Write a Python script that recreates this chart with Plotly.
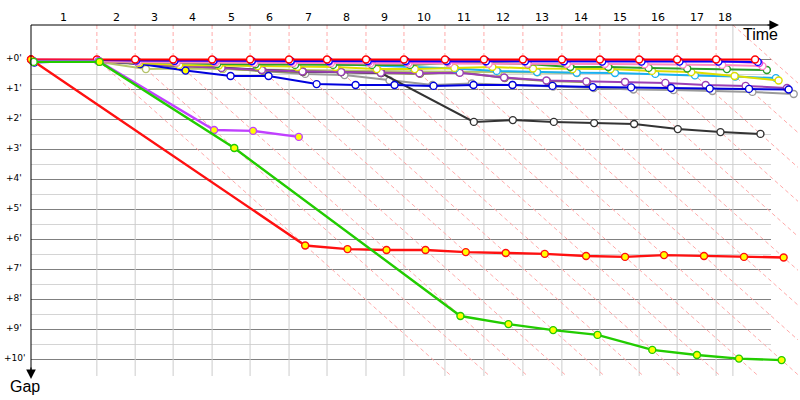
import plotly.graph_objects as go

# ---------------- data ----------------
# leader lap-line times (minutes); index 0 = start
LAP_T = [0, 1.96, 3.10, 4.23, 5.39, 6.52, 7.68, 8.81, 9.97, 11.10, 12.32,
         13.48, 14.64, 15.80, 16.93, 18.10, 19.23, 20.39, 21.55]
END_LINE = 20.89
LAP_LABELS = [str(i) for i in range(1, 19)]
GAP_TICKS = list(range(0, 11))
GAP_LABELS = ["+%d'" % v for v in GAP_TICKS]

# gaps (minutes) to the leader at each lap line, lap 0 = start
gap_gray = [0.06, 0.05, 0.10, 0.20, 0.30, 0.38, 0.48, 0.52, 0.70, 0.85, 0.80, 0.85, 0.90, 0.95, 1.00, 1.02, 1.05, 1.08, 1.15]
gap_olive = [0.08, 0.08, 0.15, 0.25, 0.30, 0.38, 0.42, 0.42, 0.45, 0.48, 0.42, 0.62, 0.72, 0.75]
gap_lolive = [0.08, 0.08, 0.32, 0.30, 0.32, 0.33, 0.35, 0.36, 0.38, 0.40, 0.40, 0.42, 0.43, 0.45]
gap_black = [0.06, 0.06, 0.12, 0.20, 0.28, 0.34, 0.40, 0.42, 0.45, 2.08, 2.02, 2.08, 2.12, 2.15, 2.32, 2.42, 2.48]
gap_purple = [0.06, 0.06, 0.14, 0.22, 0.28, 0.35, 0.40, 0.42, 0.44, 0.46, 0.44, 0.60, 0.70, 0.73, 0.75, 0.78, 0.85, 0.88, 0.95]
gap_navy = [0.10, 0.03, 0.15, 0.37, 0.55, 0.55, 0.82, 0.85, 0.85, 0.88, 0.85, 0.85, 0.88, 0.92, 0.93, 0.95, 0.97, 0.98, 1.00]
gap_cyan = [0.06, 0.03, 0.10, 0.14, 0.18, 0.20, 0.12, 0.15, 0.20, 0.25, 0.30, 0.38, 0.42, 0.44, 0.45, 0.48, 0.53, 0.57, 0.62]
gap_yellow = [0.08, 0.06, 0.12, 0.18, 0.20, 0.22, 0.25, 0.25, 0.32, 0.32, 0.28, 0.25, 0.30, 0.32, 0.32, 0.38, 0.42, 0.55, 0.70]
gap_green = [0.05, 0.05, 0.08, 0.10, 0.15, 0.16, 0.18, 0.18, 0.18, 0.18, 0.12, 0.12, 0.15, 0.25, 0.25, 0.28, 0.30, 0.32, 0.35]
gap_pink = [0.03, 0.05, 0.08, 0.10, 0.10, 0.12, 0.12, 0.12, 0.13, 0.13, 0.13, 0.14, 0.14, 0.15, 0.15, 0.16, 0.17, 0.18, 0.22]
gap_magenta = [0.00, 0.02, 0.04, 0.05, 0.06, 0.06, 0.07, 0.07, 0.08, 0.08, 0.08, 0.06, 0.06, 0.07, 0.06, 0.05, 0.05, 0.05, 0.12]
gap_blue = [0.05, 0.02, 0.03, 0.04, 0.04, 0.05, 0.05, 0.05, 0.05, 0.05, 0.05, 0.06, 0.06, 0.06, 0.07, 0.07, 0.07, 0.07, 0.08]
gap_leader = [0.0] * 19
gap_violet = [0.05, 0.05, 2.35, 2.38, 2.58]
gap_lime = [0.08, 0.08, 2.95, 8.55, 8.82, 9.02, 9.18, 9.68, 9.85, 9.97, 10.02]
gap_red2 = [0.0, 6.20, 6.32, 6.35, 6.35, 6.42, 6.45, 6.48, 6.55, 6.58, 6.52, 6.55, 6.58, 6.60]

# laps where the marker is filled (pit laps)
pit_navy = [2, 3]
pit_violet = [1, 2, 3, 4]
pit_lime = list(range(1, 11))
pit_red2 = list(range(0, 14))

SERIES = [
    ("gray", gap_gray, "#9a9a9a", []),
    ("olive", gap_olive, "#8a8a48", []),
    ("lightolive", gap_lolive, "#b5c46a", []),
    ("black", gap_black, "#333333", []),
    ("purple", gap_purple, "#9b3fb5", []),
    ("navy", gap_navy, "#0000dd", pit_navy),
    ("cyan", gap_cyan, "#1ab0f0", []),
    ("yellow", gap_yellow, "#dede00", []),
    ("green", gap_green, "#2a9e2a", []),
    ("pink", gap_pink, "#ff88c4", []),
    ("magenta", gap_magenta, "#e040e0", []),
    ("blue", gap_blue, "#0000ff", []),
    ("leader", gap_leader, "#ff0000", []),
    ("violet", gap_violet, "#c040ff", pit_violet),
    ("red2", gap_red2, "#ff1010", pit_red2),
    ("lime", gap_lime, "#22cc00", pit_lime),
]

# ---------------- geometry ----------------
W, H = 800, 400
X0_PX, XS = 31.0, 33.6      # px of time 0, px per minute
Y0_PX, YS = 59.5, 30.0      # px of gap 0, px per minute


def gx(px):
    return (px - X0_PX) / XS


def gy(py):
    return (py - Y0_PX) / YS


x_range = [gx(0), gx(W)]
y_range = [gy(H), gy(0)]

fig = go.Figure()

for name, gaps, col, pits in SERIES:
    xs = [LAP_T[i] + g for i, g in enumerate(gaps)]
    fills = ["#ffff00" if i in pits else "#ffffff" for i in range(len(gaps))]
    wide = name in ("lime", "red2", "violet")
    fig.add_trace(go.Scatter(
        x=xs, y=gaps, mode="lines+markers", name=name,
        line=dict(color=col, width=2.4 if wide else 2),
        marker=dict(symbol="circle", size=7, color=fills,
                    line=dict(color=col, width=1.4)),
        hoverinfo="skip", showlegend=False, cliponaxis=False))

shapes = []
x_grid_end = gx(771)
y_top = gy(25)
y_bot = gy(376)
# horizontal half-minute and minute lines
for k in range(1, 20, 2):
    shapes.append(dict(type="line", layer="below", x0=0, x1=x_grid_end, y0=k / 2, y1=k / 2,
                       line=dict(color="#d4d4d4", width=1)))
for v in GAP_TICKS:
    shapes.append(dict(type="line", layer="below", x0=0, x1=x_grid_end, y0=v, y1=v,
                       line=dict(color="#808080", width=1)))
# vertical lap lines
for t in LAP_T[1:18]:
    shapes.append(dict(type="line", layer="below", x0=t, x1=t, y0=0, y1=y_bot,
                       line=dict(color="#cccccc", width=1)))
    shapes.append(dict(type="line", layer="below", x0=t, x1=t, y0=y_top, y1=0,
                       line=dict(color="#ffaaaa", width=1, dash="4px,3px")))
shapes.append(dict(type="line", layer="below", x0=END_LINE, x1=END_LINE, y0=y_top, y1=y_bot,
                   line=dict(color="#cccccc", width=1)))
# diagonal lap lines (constant lap, slope 1 minute per minute)
x_max = gx(798)
for t in LAP_T[1:18]:
    d = min(gy(376), x_max - t)
    shapes.append(dict(type="line", layer="below", x0=t, y0=0, x1=t + d, y1=d,
                       line=dict(color="#ffaaaa", width=1, dash="4px,3px")))
d = min(gy(376) - y_top, x_max - END_LINE)
shapes.append(dict(type="line", layer="below", x0=END_LINE, y0=y_top, x1=END_LINE + d, y1=y_top + d,
                   line=dict(color="#ffaaaa", width=1, dash="4px,3px")))
# axis lines
shapes.append(dict(type="line", x0=0, x1=gx(770), y0=y_top, y1=y_top,
                   line=dict(color="#000000", width=1)))
shapes.append(dict(type="line", x0=0, x1=0, y0=y_top, y1=gy(370),
                   line=dict(color="#000000", width=1)))

annotations = []
# arrow heads
annotations.append(dict(x=gx(779), y=y_top, ax=gx(766), ay=y_top, xref="x", yref="y",
                        axref="x", ayref="y", text="", showarrow=True, arrowhead=2,
                        arrowsize=1.6, arrowwidth=1.2, arrowcolor="#000000"))
annotations.append(dict(x=0, y=gy(379), ax=0, ay=gy(366), xref="x", yref="y",
                        axref="x", ayref="y", text="", showarrow=True, arrowhead=2,
                        arrowsize=1.6, arrowwidth=1.2, arrowcolor="#000000"))
# lap labels centred in each lap column
bounds = [0] + LAP_T[1:18] + [END_LINE]
for i, lab in enumerate(LAP_LABELS):
    annotations.append(dict(x=(bounds[i] + bounds[i + 1]) / 2, y=gy(17), xref="x", yref="y",
                            text=lab, showarrow=False,
                            font=dict(family="DejaVu Sans", size=11, color="#000000")))
# gap labels
for v, lab in zip(GAP_TICKS, GAP_LABELS):
    annotations.append(dict(x=gx(14), y=v - 0.05, xref="x", yref="y", text=lab, showarrow=False,
                            font=dict(family="DejaVu Sans", size=9, color="#000000")))
annotations.append(dict(x=gx(760), y=gy(34), xref="x", yref="y", text="Time", showarrow=False,
                        font=dict(family="Liberation Sans, Arial", size=16, color="#000000")))
annotations.append(dict(x=gx(25), y=gy(386), xref="x", yref="y", text="Gap", showarrow=False,
                        font=dict(family="Liberation Sans, Arial", size=16, color="#000000")))

fig.update_layout(
    width=W, height=H, margin=dict(l=0, r=0, t=0, b=0),
    paper_bgcolor="#ffffff", plot_bgcolor="#ffffff",
    xaxis=dict(range=x_range, visible=False, fixedrange=True),
    yaxis=dict(range=y_range, visible=False, fixedrange=True),
    shapes=shapes, annotations=annotations, showlegend=False,
    hovermode=False,
)

fig.write_html("out.html", config={"displayModeBar": False, "staticPlot": True},
               post_script="document.body.style.margin='0px';document.body.style.overflow='hidden';")
